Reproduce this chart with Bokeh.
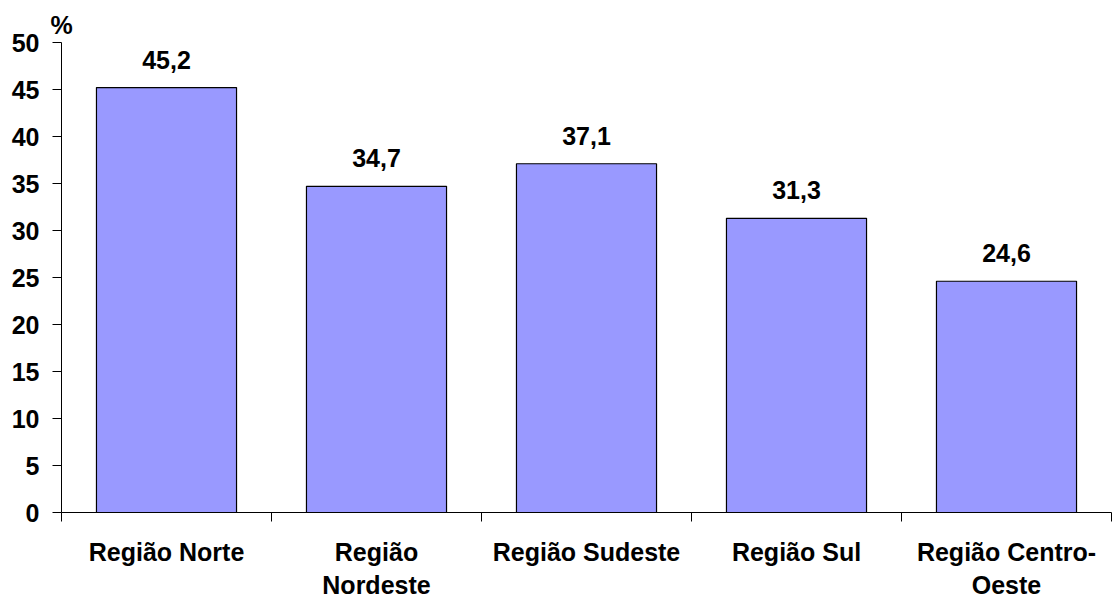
from bokeh.plotting import figure
from bokeh.models import ColumnDataSource, FixedTicker, LinearAxis, Range1d
from bokeh.core.properties import value
from bokeh.embed import file_html
from bokeh.resources import INLINE

# Share per region (%)
regions_line1 = ["Região Norte", "Região", "Região Sudeste", "Região Sul", "Região Centro-"]
regions_line2 = ["", "Nordeste", "", "", "Oeste"]
shares = [45.2, 34.7, 37.1, 31.3, 24.6]
share_labels = ["45,2", "34,7", "37,1", "31,3", "24,6"]
y_ticks = [0, 5, 10, 15, 20, 25, 30, 35, 40, 45, 50]

FONT = "Liberation Sans"
FS = "25px"

n = len(shares)
centers = [i + 0.5 for i in range(n)]
src = ColumnDataSource(dict(x=centers, top=shares, label=share_labels))

p = figure(width=1112, height=601, output_backend="svg", toolbar_location=None,
           x_range=Range1d(0, n), y_range=Range1d(0, 50),
           min_border_left=61, min_border_right=1, min_border_top=42, min_border_bottom=87)
p.outline_line_color = None
p.grid.visible = False
p.background_fill_color = "white"
p.border_fill_color = "white"

# unit marker above the value axis
p.title.text = "%"
p.title.align = "left"
p.title.offset = -11
p.title.text_font = FONT
p.title.text_font_style = "bold"
p.title.text_font_size = FS
p.title.text_color = "black"
p.title.standoff = 8

p.vbar(x="x", top="top", bottom=0, width=0.667, source=src,
       fill_color="#9999FF", line_color="black", line_width=1.2)

p.text(x="x", y="top", text="label", source=src, text_align="center",
       text_baseline="bottom", y_offset=-19, text_font=value(FONT),
       text_font_style="bold", text_font_size=FS, text_color="black")

# y axis
ya = p.yaxis[0]
ya.ticker = FixedTicker(ticks=y_ticks)
ya.major_tick_out = 9
ya.major_tick_in = 0
ya.minor_tick_line_color = None
ya.axis_line_color = "black"
ya.major_tick_line_color = "black"
ya.major_label_text_font = FONT
ya.major_label_text_font_style = "bold"
ya.major_label_text_font_size = FS
ya.major_label_text_color = "black"
ya.major_label_standoff = 13

# x axis: boundary ticks only
xa = p.xaxis[0]
xa.ticker = FixedTicker(ticks=list(range(n + 1)))
xa.major_tick_out = 9
xa.major_tick_in = 0
xa.minor_tick_line_color = None
xa.axis_line_color = "black"
xa.major_tick_line_color = "black"
xa.major_label_overrides = {i: "" for i in range(n + 1)}
xa.major_label_text_font_size = "0px"
xa.major_label_standoff = 0


def name_axis(lines, standoff):
    ax = LinearAxis(ticker=FixedTicker(ticks=centers),
                    major_label_overrides={c: t for c, t in zip(centers, lines)})
    ax.axis_line_color = None
    ax.major_tick_line_color = None
    ax.minor_tick_line_color = None
    ax.major_tick_out = 0
    ax.major_tick_in = 0
    ax.major_label_text_font = FONT
    ax.major_label_text_font_style = "bold"
    ax.major_label_text_font_size = FS
    ax.major_label_text_color = "black"
    ax.major_label_standoff = standoff
    return ax


# region names, two rows under each bar
p.add_layout(name_axis(regions_line1, 16), "below")
p.add_layout(name_axis(regions_line2, 2), "below")

open("out.html", "w").write(file_html(p, INLINE))
